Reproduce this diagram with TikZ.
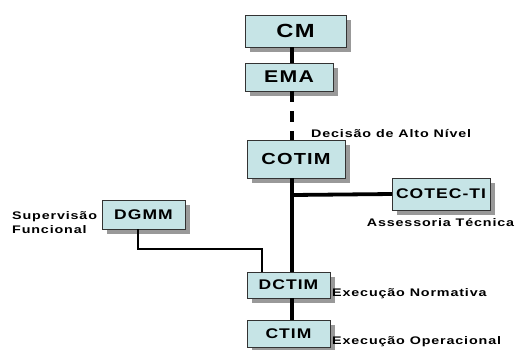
\documentclass[tikz,border=0pt]{standalone}
\usepackage{fontspec}
\setmainfont{Liberation Sans}
\newfontfamily\lblfont[LetterSpace=6]{Liberation Sans}
\usetikzlibrary{positioning}
\definecolor{boxfill}{RGB}{198,228,230}
\newcommand{\wide}[1]{\scalebox{1.25}[1]{#1}}
\newcommand{\lwide}[1]{\scalebox{1.3}[1]{#1}}

\begin{document}
\begin{tikzpicture}[x=1pt, y=-1pt,
  orgbox/.style={draw=black!80, fill=boxfill, rectangle, inner sep=0pt, align=center,
    font=\lblfont\bfseries\fontsize{14}{16}\selectfont,
    preaction={fill=black!40, transform canvas={shift={(5pt,-5pt)}}}},
  spine/.style={line width=3.8pt},
  thin/.style={line width=1.5pt},
  lbl/.style={font=\lblfont\bfseries\fontsize{11}{14}\selectfont, inner sep=0pt}]
  \useasboundingbox (0,0) rectangle (518,349);
  % boxes
  \node[orgbox, minimum width=101pt, minimum height=32pt, font=\lblfont\bfseries\fontsize{19}{21}\selectfont] (cm) at (295.5,31) {\wide{CM}};
  \node[orgbox, minimum width=88pt, minimum height=28pt, font=\lblfont\bfseries\fontsize{17}{19}\selectfont] (ema) at (289,77) {\wide{EMA}};
  \node[orgbox, minimum width=98pt, minimum height=38pt, font=\lblfont\bfseries\fontsize{16}{18}\selectfont] (cotim) at (296,159) {\wide{COTIM}};
  \node[orgbox, minimum width=98pt, minimum height=32pt] (cotec) at (441,194) {\wide{COTEC-TI}};
  \node[orgbox, minimum width=83pt, minimum height=29pt] (dgmm) at (143.5,214.5) {\wide{DGMM}};
  \node[orgbox, minimum width=83pt, minimum height=26pt] (dctim) at (288.5,285) {\wide{DCTIM}};
  \node[orgbox, minimum width=83pt, minimum height=27pt] (ctim) at (288.5,333.5) {\wide{CTIM}};
  % labels
  \node[lbl, anchor=west] (decisao) at (311,134) {\lwide{Decisão de Alto Nível}};
  \node[lbl] (assess) at (440.5,223) {\lwide{Assessoria Técnica}};
  \node[lbl, anchor=west, align=left] (superv) at (12,223) {\lwide{Supervisão}\\\lwide{Funcional}};
  \node[lbl, anchor=west] (normat) at (332,294) {\lwide{Execução Normativa}};
  \node[lbl, anchor=west] (operac) at (332,342) {\lwide{Execução Operacional}};
  % connectors
  \coordinate (jct) at (292,195);
  \coordinate (bend1) at (138,249);
  \coordinate (bend2) at (262,249);
  \draw[spine] (292,0 |- cm.south) -- (292,0 |- ema.north);
  \draw[spine, dash pattern=on 11pt off 9pt] (292,0 |- ema.south) -- (292,0 |- cotim.north);
  \draw[spine] (292,0 |- cotim.south) -- (292,0 |- dctim.north);
  \draw[spine] (292,0 |- dctim.south) -- (292,0 |- ctim.north);
  \draw[spine] (jct) -- (cotec.west);
  \draw[thin] (138,0 |- dgmm.south) -- (bend1) -- (bend2) -- (262,0 |- dctim.north);
\end{tikzpicture}
\end{document}
